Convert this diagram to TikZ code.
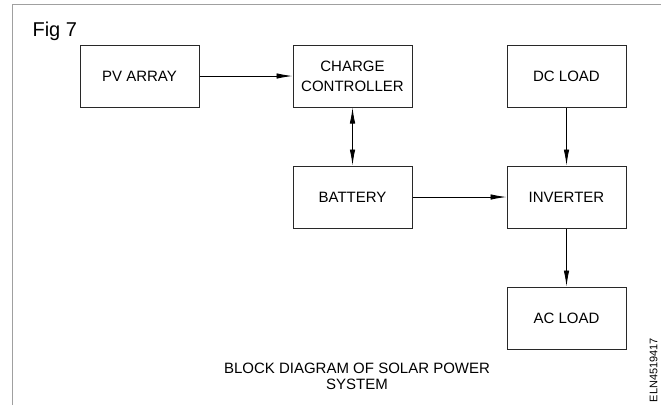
\documentclass[tikz,border=0pt]{standalone}
\usepackage{fontspec}
\setmainfont{Liberation Sans}
\usepackage{tikz}
\usetikzlibrary{arrows.meta, positioning}
\definecolor{framegray}{RGB}{160, 160, 160}
\definecolor{boxline}{RGB}{40, 40, 40}
\tikzset{
    block/.style={draw=boxline, line width=1pt, minimum width=119pt, minimum height=62pt,
        align=center, font=\fontsize{15}{20}\selectfont},
    flow/.style={line width=0.9pt, -{Latex[length=16pt, width=5.5pt]}},
}

\begin{document}
\begin{tikzpicture}[x=1pt, y=-1pt]
    \useasboundingbox (0,0) rectangle (661,405);

    % Frame
    \draw[framegray, line width=1.5pt] (12.5,405) -- (12.5,4.5) -- (661,4.5);
    \node[anchor=west, font=\fontsize{20}{24}\selectfont] (fig) at (29,31) {Fig 7};

    % Blocks
    \node[block] (pv) at (139.5,76) {PV ARRAY};
    \node[block] (cc) at (352.5,76) {CHARGE\\CONTROLLER};
    \node[block] (dc) at (566.5,76) {DC LOAD};
    \node[block] (bat) at (352.5,197) {BATTERY};
    \node[block] (inv) at (566.5,197) {INVERTER};
    \node[block] (ac) at (566.5,318) {AC LOAD};

    % Connections
    \draw[flow] (pv) -- (cc);
    \draw[flow, {Latex[length=16pt, width=5.5pt]}-{Latex[length=16pt, width=5.5pt]}] (cc) -- (bat);
    \draw[flow] (bat) -- (inv);
    \draw[flow] (dc) -- (inv);
    \draw[flow] (inv) -- (ac);

    % Caption
    \node[align=center, font=\fontsize{15}{16}\selectfont] (caption) at (357,376)
        {BLOCK DIAGRAM OF SOLAR POWER\\SYSTEM};
    \node[rotate=90, font=\fontsize{11}{12}\selectfont] (code) at (653.5,370) {ELN4519417};
\end{tikzpicture}
\end{document}
